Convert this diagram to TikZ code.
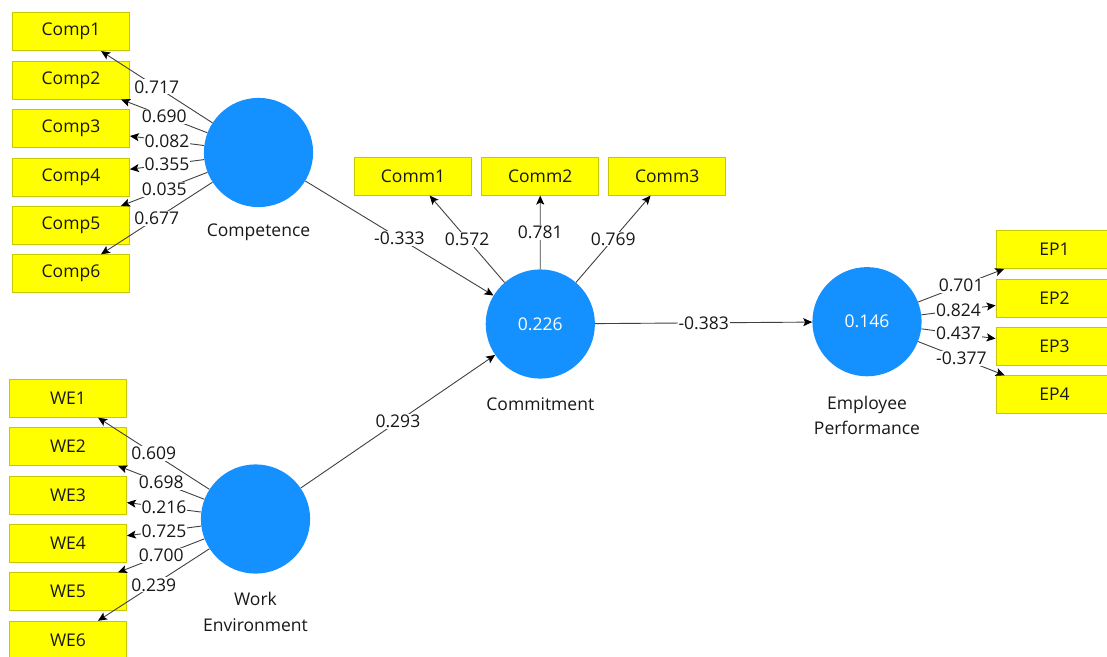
\documentclass[tikz,border=0pt]{standalone}
\usepackage{fontspec}
\setmainfont{Open Sans}
\usetikzlibrary{arrows.meta}
\definecolor{lvblue}{RGB}{21,145,255}
\definecolor{mvyellow}{RGB}{255,255,0}
\definecolor{mvborder}{RGB}{200,200,0}
\definecolor{pathgray}{RGB}{64,64,64}
\definecolor{labeltext}{RGB}{24,24,24}

% source/target/path coefficient
\newcommand\pathlist{%
  cpt/comp1/0.717, cpt/comp2/0.690, cpt/comp3/0.082,
  cpt/comp4/0.355, cpt/comp5/0.035, cpt/comp6/0.677,
  wenv/we1/0.609, wenv/we2/0.698, wenv/we3/0.216,
  wenv/we4/0.725, wenv/we5/0.700, wenv/we6/0.239,
  cmt/comm1/0.572, cmt/comm2/0.781, cmt/comm3/0.769,
  perf/ep1/0.701, perf/ep2/0.824, perf/ep3/0.437, perf/ep4/-0.377,
  cpt/cmt/-0.333, wenv/cmt/0.293, cmt/perf/-0.383}

\begin{document}
\begin{tikzpicture}[x=1pt,y=-1pt,
  every node/.style={font=\fontsize{17.5}{25.5}\selectfont, text=labeltext},
  latent/.style={circle, fill=lvblue, draw=none, minimum size=109.2pt,
    inner sep=0pt, text=white},
  indicator/.style={rectangle, fill=mvyellow, draw=mvborder, line width=0.8pt,
    minimum width=117pt, minimum height=38pt, inner sep=0pt},
  lvname/.style={align=center},
  loading/.style={draw=pathgray, line width=0.9pt,
    -{Stealth[length=9pt,width=8pt,inset=2pt,color=black]}},
  coef/.style={midway, fill=white, inner sep=1pt}
]
\useasboundingbox (0,0) rectangle (1107,656);
\clip (0,0) rectangle (1107,656);

% latent variables
\node[latent] (cpt)  at (258.5,152.5) {};
\node[latent] (wenv) at (255.5,519.0) {};
\node[latent] (cmt)  at (540.3,324.0) {0.226};
\node[latent] (perf) at (867.0,321.7) {0.146};

\node[lvname] at (258.5,232.0) {Competence};
\node[lvname] at (255.5,612.0) {Work\\Environment};
\node[lvname] at (540.3,404.0) {Commitment};
\node[lvname] at (867.0,415.5) {Employee\\Performance};

% Competence indicators
\foreach \i/\y in {1/31.7, 2/80.1, 3/128.5, 4/176.9, 5/225.3, 6/273.7}
  \node[indicator] (comp\i) at (71,\y) {Comp\i};

% Work Environment indicators
\foreach \i/\y in {1/398.3, 2/446.6, 3/495.0, 4/543.4, 5/591.8, 6/640.2}
  \node[indicator] (we\i) at (68,\y) {WE\i};

% Commitment indicators
\foreach \i/\x in {1/413.0, 2/540.2, 3/667.2}
  \node[indicator] (comm\i) at (\x,176.2) {Comm\i};

% Employee Performance indicators
\foreach \i/\y in {1/249.5, 2/298.0, 3/346.3, 4/394.7}
  \node[indicator] (ep\i) at (1054.5,\y) {EP\i};

% connectors first, coefficients on top
\foreach \s/\t/\w in \pathlist
  \draw[loading] (\s) -- (\t);
\foreach \s/\t/\w in \pathlist
  \path (\s) -- (\t) node[coef] {\w};
\end{tikzpicture}
\end{document}
